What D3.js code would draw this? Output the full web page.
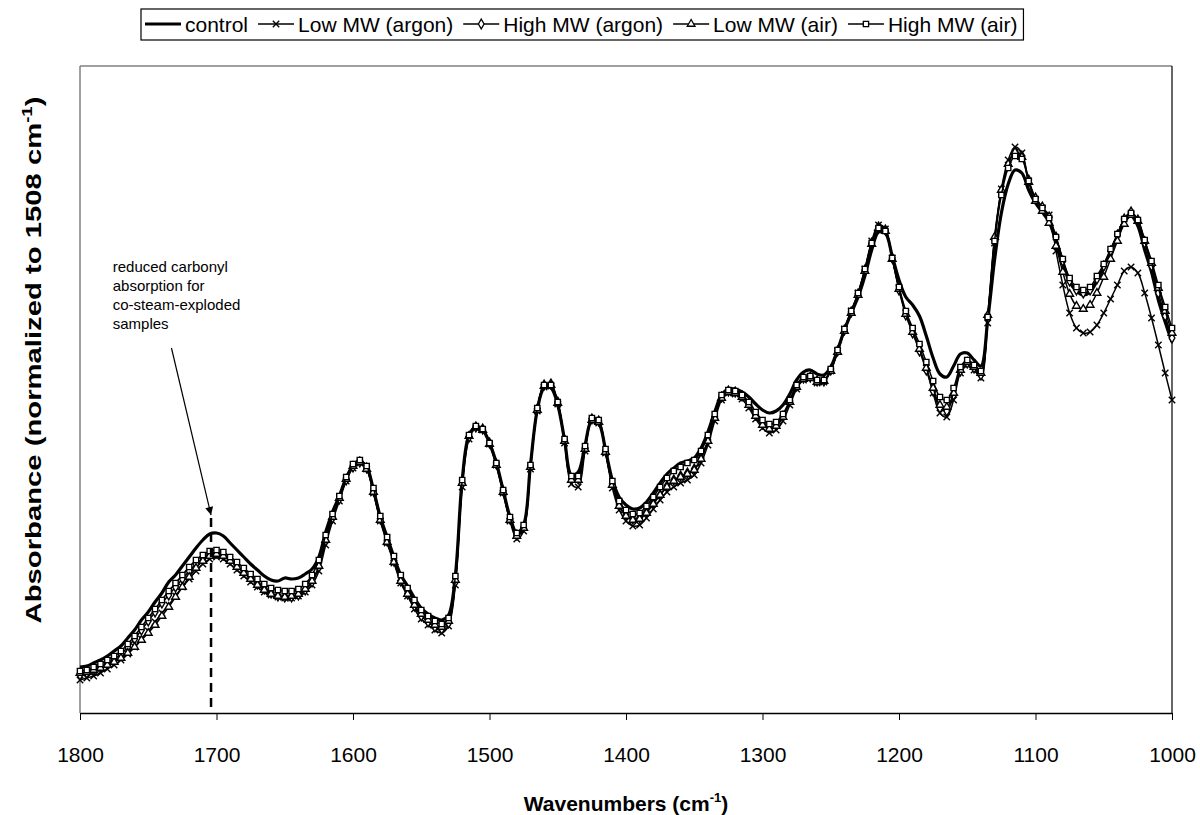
<!DOCTYPE html>
<html>
<head>
<meta charset="utf-8">
<script src="https://cdn.jsdelivr.net/npm/d3@7"></script>
<style>
  body { margin: 0; background: #fff; }
  text { font-family: "Liberation Sans", Arial, sans-serif; fill: #000; }
</style>
</head>
<body>
<svg id="chart" width="1200" height="815"></svg>
<script>
// wavenumber grid, 1800 -> 1000 cm-1 every 5 cm-1
var wavenumbers = d3.range(1800, 999, -5);

// absorbance (arbitrary units, normalized)
var control = [
  46,47,50,53,57,62,67,75,83,93,
  101,111,120,131,138,147,156,165,173,179,
  180,177,170,163,156,149,143,137,133,132,
  135,134,135,139,144,156,181,201,217,235,
  247,251,246,223,196,176,156,138,127,115,
  105,99,95,93,98,138,233,278,286,283,
  270,250,223,196,180,188,248,303,325,325,
  308,273,238,241,268,293,290,263,233,216,
  208,204,205,211,220,230,239,245,250,252,
  255,265,281,301,318,324,324,321,316,309,
  303,300,302,308,319,333,341,343,339,338,
  346,363,383,400,416,437,463,481,480,457,
  433,416,408,397,377,355,339,336,347,359,
  360,353,347,393,453,500,529,543,540,523,
  510,501,491,473,450,431,422,418,421,432,
  445,461,476,491,497,487,463,441,413,391,
  371
];
var lowArgon = [
  33,35,37,40,44,48,53,59,66,74,
  82,91,100,108,117,126,134,142,149,154,
  156,154,149,143,137,131,126,121,118,116,
  115,115,117,121,128,142,168,192,212,232,
  245,250,244,220,192,170,150,130,117,104,
  94,88,83,80,87,128,226,274,285,283,
  269,248,220,192,174,182,244,302,326,327,
  309,270,229,226,262,292,290,260,225,203,
  192,187,188,195,204,213,221,226,230,233,
  238,250,268,292,313,320,319,314,305,294,
  285,280,283,292,308,324,333,335,330,331,
  342,362,384,402,420,444,472,488,484,455,
  425,400,382,365,345,320,300,296,313,340,
  348,343,335,390,470,524,553,566,560,532,
  513,505,498,462,428,400,385,380,381,388,
  400,414,428,442,446,440,420,395,368,340,
  313
];
var highArgon = [
  38,40,43,46,50,54,59,66,74,83,
  92,101,110,118,126,134,142,149,155,159,
  160,158,153,147,141,135,129,124,120,117,
  116,116,118,123,131,146,172,195,214,233,
  246,251,245,222,194,172,152,132,119,107,
  97,91,86,84,90,131,229,276,286,284,
  270,249,222,194,178,186,247,304,328,329,
  311,273,234,234,265,294,292,262,229,208,
  198,194,195,201,210,218,227,233,237,240,
  244,255,273,296,316,322,321,317,309,298,
  289,285,288,297,312,327,335,336,332,332,
  343,362,383,401,419,443,470,486,483,455,
  423,398,380,362,343,322,305,302,318,342,
  350,345,338,395,474,522,548,561,557,533,
  515,506,496,476,452,432,423,420,423,434,
  447,462,478,494,501,493,470,447,420,397,
  375
];
var lowAir = [
  40,41,43,45,48,51,55,60,66,73,
  80,88,97,106,116,126,136,145,152,157,
  159,157,152,146,140,134,128,123,119,117,
  116,117,119,124,132,147,173,196,215,234,
  247,251,244,221,193,171,151,132,119,108,
  99,93,88,86,92,133,230,277,286,283,
  269,248,221,193,177,185,246,303,327,328,
  310,272,233,233,264,293,291,261,228,207,
  197,193,194,200,209,218,226,232,236,239,
  243,254,272,295,315,321,320,316,308,297,
  288,284,287,296,311,326,334,335,331,332,
  342,361,382,400,418,442,469,485,482,454,
  424,399,381,364,345,325,308,306,320,343,
  351,346,340,398,476,523,549,561,556,531,
  512,502,490,467,441,419,407,404,408,420,
  436,454,472,489,498,492,472,450,425,402,
  380
];
var highAir = [
  42,43,46,49,53,57,62,69,77,86,
  95,104,113,122,130,138,146,153,158,162,
  163,161,156,151,145,139,134,129,125,123,
  122,122,124,129,138,153,178,199,217,236,
  249,253,247,225,197,176,157,138,125,113,
  103,97,92,89,95,137,233,278,287,284,
  270,250,223,196,180,188,248,305,328,328,
  311,274,237,237,267,295,293,264,232,212,
  203,199,200,207,216,226,235,242,246,250,
  253,262,278,299,318,323,322,318,311,301,
  293,289,291,299,313,328,336,337,333,333,
  344,363,384,402,420,444,470,485,482,455,
  426,402,385,369,351,332,316,313,325,346,
  353,348,342,396,472,518,545,557,554,532,
  514,505,495,476,454,435,426,423,426,437,
  449,464,479,494,500,493,473,452,428,406,
  385
];

var seriesNames = ["control", "Low MW (argon)", "High MW (argon)", "Low MW (air)", "High MW (air)"];
var seriesValues = [control, lowArgon, highArgon, lowAir, highAir];
var seriesMarkers = ["none", "x", "diamond", "triangle", "square"];
var xTicks = [1800, 1700, 1600, 1500, 1400, 1300, 1200, 1100, 1000];
var carbonylBand = 1704;
var noteLines = ["reduced carbonyl", "absorption for", "co-steam-exploded", "samples"];

var width = 1200, height = 815;
var plot = {left: 80, right: 1172, top: 66, bottom: 713};

var svg = d3.select("#chart");

var x = d3.scaleLinear()
    .domain([1800, 1000])
    .range([plot.left, plot.right]);

var y = d3.scaleLinear()
    .domain([0, 647])
    .range([plot.bottom, plot.top]);

var series = seriesNames.map(function(name, i) {
  return {
    name: name,
    marker: seriesMarkers[i],
    points: wavenumbers.map((w, j) => [w, seriesValues[i][j]])
  };
});

// plot area frame
svg.append("line")
  .attr("x1", plot.left).attr("x2", plot.right)
  .attr("y1", plot.top).attr("y2", plot.top)
  .attr("stroke", "#808080").attr("stroke-width", 1.5);
svg.append("line")
  .attr("x1", plot.left).attr("x2", plot.left)
  .attr("y1", plot.top).attr("y2", plot.bottom)
  .attr("stroke", "#808080").attr("stroke-width", 1.5);
svg.append("line")
  .attr("x1", plot.right).attr("x2", plot.right)
  .attr("y1", plot.top).attr("y2", plot.bottom)
  .attr("stroke", "#000").attr("stroke-width", 1.2);

function markerPath(type) {
  if (type === "x") return "M-3.2,-3.2L3.2,3.2M-3.2,3.2L3.2,-3.2";
  if (type === "diamond") return d3.symbol(d3.symbolDiamond, 28)();
  if (type === "triangle") return d3.symbol(d3.symbolTriangle, 26)();
  if (type === "square") return d3.symbol(d3.symbolSquare, 28)();
  return "";
}

var line = d3.line()
    .curve(d3.curveCatmullRom.alpha(0.5))
    .x(d => x(d[0]))
    .y(d => y(d[1]));

// series
series.forEach(function(s) {
  var g = svg.append("g").attr("class", "series");
  g.append("path")
    .datum(s.points)
    .attr("fill", "none")
    .attr("stroke", "#000")
    .attr("stroke-width", s.marker === "none" ? 3.2 : 1.5)
    .attr("stroke-linejoin", "round")
    .attr("d", line);

  if (s.marker !== "none") {
    g.selectAll(".mk")
      .data(s.points)
      .enter()
      .append("path")
        .classed("mk", true)
        .attr("transform", d => "translate(" + x(d[0]) + "," + y(d[1]) + ")")
        .attr("d", markerPath(s.marker))
        .attr("fill", s.marker === "x" ? "none" : "#fff")
        .attr("stroke", "#000")
        .attr("stroke-width", 1.4);
  }
});

// x axis
var xAxis = svg.append("g")
  .attr("transform", "translate(0," + plot.bottom + ")")
  .call(d3.axisBottom(x)
          .tickValues(xTicks)
          .tickSize(7)
          .tickSizeOuter(0)
          .tickPadding(27)
          .tickFormat(d3.format("d")));
xAxis.select(".domain").attr("stroke", "#000").attr("stroke-width", 1.5);
xAxis.selectAll(".tick line").attr("stroke", "#000");
xAxis.selectAll(".tick text")
  .style("font-family", "'Liberation Sans', Arial, sans-serif")
  .style("font-size", "21px")
  .attr("fill", "#000");

// axis titles
var xTitle = svg.append("text")
  .attr("x", (plot.left + plot.right) / 2)
  .attr("y", 811)
  .attr("text-anchor", "middle")
  .style("font-size", "21px")
  .style("font-weight", "bold");
xTitle.append("tspan").text("Wavenumbers (cm");
xTitle.append("tspan").attr("dy", -9).style("font-size", "13px").text("-1");
xTitle.append("tspan").attr("dy", 9).text(")");

// the y title is drawn stretched along its length, as in the original figure
var yTitle = svg.append("text")
  .attr("transform", "translate(41,360) rotate(-90) scale(1.33,1)")
  .attr("text-anchor", "middle")
  .style("font-size", "22px")
  .style("font-weight", "bold");
yTitle.append("tspan").text("Absorbance (normalized to 1508 cm");
yTitle.append("tspan").attr("dy", -9).style("font-size", "14px").text("-1");
yTitle.append("tspan").attr("dy", 9).text(")");

// carbonyl annotation
svg.append("defs").append("marker")
  .attr("id", "arrow")
  .attr("viewBox", "0 0 10 10")
  .attr("refX", 10).attr("refY", 5)
  .attr("markerWidth", 11).attr("markerHeight", 8)
  .attr("markerUnits", "userSpaceOnUse")
  .attr("orient", "auto")
  .append("path")
    .attr("d", "M0,0L10,5L0,10Z")
    .attr("fill", "#000");

svg.append("line")
  .attr("x1", x(carbonylBand)).attr("x2", x(carbonylBand))
  .attr("y1", y(195)).attr("y2", plot.bottom)
  .attr("stroke", "#000")
  .attr("stroke-width", 2.5)
  .attr("stroke-dasharray", "9,6");

svg.append("line")
  .attr("x1", x(1733)).attr("y1", y(365))
  .attr("x2", x(carbonylBand)).attr("y2", y(198))
  .attr("stroke", "#000")
  .attr("stroke-width", 1.2)
  .attr("marker-end", "url(#arrow)");

svg.append("text")
  .attr("x", x(1776))
  .attr("y", 272)
  .style("font-size", "15px")
  .selectAll("tspan")
  .data(noteLines)
  .enter()
  .append("tspan")
    .attr("x", x(1776))
    .attr("dy", (d, i) => i === 0 ? 0 : 19)
    .text(d => d);

// legend
var legend = svg.append("g").attr("class", "legend");
var legendBox = legend.append("rect")
  .attr("fill", "#fff")
  .attr("stroke", "#000")
  .attr("stroke-width", 1.2);

var lx = 145;
var ly = 24;
series.forEach(function(s) {
  var item = legend.append("g");
  item.append("line")
    .attr("x1", lx).attr("x2", lx + 36)
    .attr("y1", ly).attr("y2", ly)
    .attr("stroke", "#000")
    .attr("stroke-width", s.marker === "none" ? 3.2 : 1.3);
  if (s.marker !== "none") {
    item.append("path")
      .attr("transform", "translate(" + (lx + 18) + "," + ly + ")")
      .attr("d", markerPath(s.marker))
      .attr("fill", s.marker === "x" ? "none" : "#fff")
      .attr("stroke", "#000")
      .attr("stroke-width", 1.3);
  }
  var t = item.append("text")
    .attr("x", lx + 40)
    .attr("y", ly + 7.5)
    .style("font-size", "21px")
    .text(s.name);
  lx = lx + 40 + t.node().getComputedTextLength() + 10;
});

legendBox
  .attr("x", 141).attr("y", 9)
  .attr("width", lx - 141 - 4)
  .attr("height", 31);
</script>
</body>
</html>
